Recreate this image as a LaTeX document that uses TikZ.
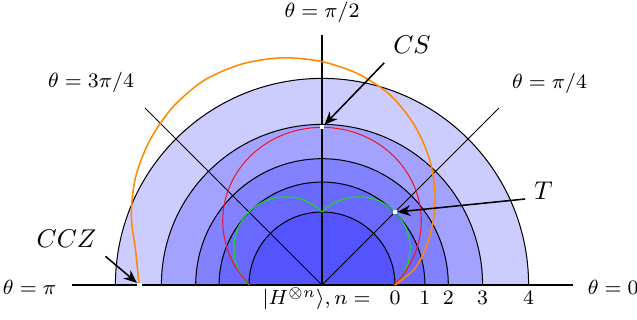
\documentclass[tikz,border=0pt]{standalone}
\usepackage{amsmath}
\usepackage{amssymb}
\usetikzlibrary{arrows.meta, positioning}
\definecolor{ccz}{RGB}{255,136,0}
\definecolor{tgate}{RGB}{20,225,20}
\definecolor{csgate}{RGB}{240,20,40}

\begin{document}
\begin{tikzpicture}[
    shell/.style = {draw=black, line width=0.4pt},
    ray/.style   = {black, line width=0.4pt},
    alab/.style  = {font=\footnotesize},
    nlab/.style  = {font=\footnotesize, anchor=base},
    glab/.style  = {font=\normalsize},
    spt/.style   = {rectangle, fill=white, inner sep=0pt, minimum size=1.6pt},
    arr/.style   = {-{Stealth[length=1.8mm, width=1.5mm]}, semithick}
  ]
  \useasboundingbox (-4.411,-0.479) rectangle (4.315,3.904);

  % ── Shells n = 4 ... 0 ───────────────────────────────────────────────────
  \foreach \r/\c in {2.83/20, 2.2/36, 1.73/49, 1.41/59, 1/67}
    \filldraw[shell, fill=blue!\c] (\r,0) arc[start angle=0, end angle=180, radius=\r] -- cycle;

  % ── Rays and axis ────────────────────────────────────────────────────────
  \coordinate (o) at (0,0);
  \foreach \a in {45, 90, 135}
    \draw[ray] (o) -- (\a:3.43);
  \draw[ray] (-3.42,0) -- (3.44,0);

  % ── Curves ───────────────────────────────────────────────────────────────
  \draw[tgate] (1,0) arc[start angle=-45, end angle=135, radius=0.7071]
                     arc[start angle=45, end angle=225, radius=0.7071];
  \draw[csgate] (0.988,0) arc[start angle=-43.4, end angle=223.4, x radius=1.36, y radius=1.28];
  \draw[ccz, line width=0.6pt] plot[smooth] coordinates {
      (0:1) (10:1.29) (20:1.52) (30:1.76) (40:2.02) (50:2.28) (60:2.53)
      (70:2.76) (80:2.93) (90:3.06) (100:3.16) (110:3.22) (120:3.235)
      (130:3.18) (140:3.08) (150:2.95) (160:2.78) (170:2.59) (180:2.507)};

  % ── Gate states ──────────────────────────────────────────────────────────
  \node[spt] (cspt) at (0,2.16) {};
  \node[spt] (tpt)  at (45:1.41) {};
  \node[spt] (ccpt) at (180:2.5) {};

  \node[glab] (lcs)  at (1.233,3.288) {$CS$};
  \node[glab] (lt)   at (3.034,1.295) {$T$};
  \node[glab] (lccz) at (-3.5,0.637)  {$CCZ$};

  \draw[arr] (lcs.south west)  -- (cspt);
  \draw[arr] (lt.205)          -- (tpt);
  \draw[arr] (lccz.south east) -- (ccpt);

  % ── Angle labels ─────────────────────────────────────────────────────────
  \node[alab] (a0)   at (3.99,-0.03)   {$\theta=0$};
  \node[alab] (a45)  at (3.116,2.767)  {$\theta=\pi/4$};
  \node[alab] (a90)  at (0,3.74)       {$\theta=\pi/2$};
  \node[alab] (a135) at (-3.164,2.781) {$\theta=3\pi/4$};
  \node[alab] (a180) at (-4.007,-0.03) {$\theta=\pi$};

  % ── Shell numbers ────────────────────────────────────────────────────────
  \node[nlab, anchor=base east] (hlab) at (0.79,-0.274) {$|H^{\otimes n}\rangle, n=$};
  \foreach \r/\n in {1/0, 1.41/1, 1.73/2, 2.2/3, 2.83/4}
    \node[nlab] (n\n) at (\r,-0.274) {$\n$};
\end{tikzpicture}
\end{document}
